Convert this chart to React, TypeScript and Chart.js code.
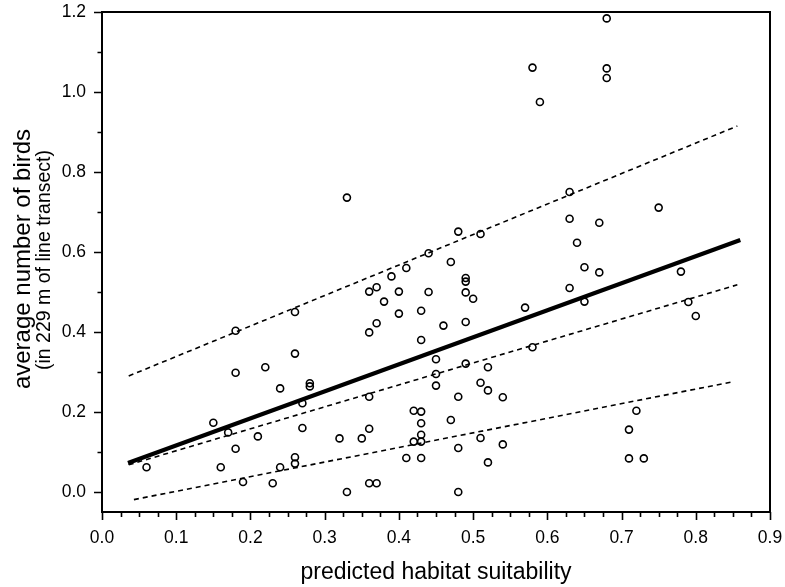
import React, { useEffect, useRef } from "react";
import { Chart, registerables } from "chart.js";

Chart.register(...registerables);

// observed points: predicted habitat suitability (x) vs average number of birds (y)
const suitability: number[] = [
  0.06, 0.15, 0.16, 0.17, 0.18, 0.18, 0.18, 0.19, 0.21, 0.22, 0.23, 0.24, 0.24, 0.26, 0.26, 0.26, 0.26, 0.27, 0.27, 0.28, 0.28,
  0.32, 0.33, 0.33, 0.35, 0.36, 0.37, 0.36, 0.37, 0.36, 0.37, 0.36, 0.36, 0.38, 0.39, 0.40, 0.40, 0.41, 0.41, 0.42, 0.42,
  0.43, 0.43, 0.43, 0.43, 0.43, 0.43, 0.43, 0.44, 0.44, 0.45, 0.45, 0.45, 0.46, 0.47, 0.47, 0.48, 0.48, 0.48, 0.48,
  0.49, 0.49, 0.49, 0.49, 0.49, 0.50, 0.51, 0.51, 0.51, 0.52, 0.52, 0.52, 0.54, 0.54, 0.57, 0.58, 0.59, 0.58,
  0.63, 0.63, 0.63, 0.64, 0.65, 0.65, 0.67, 0.67, 0.68, 0.68, 0.68, 0.71, 0.71, 0.72, 0.73, 0.75, 0.78, 0.79, 0.80,
];
const birds: number[] = [
  0.062, 0.173, 0.062, 0.149, 0.108, 0.298, 0.403, 0.025, 0.139, 0.312, 0.022, 0.062, 0.259, 0.45, 0.346, 0.087, 0.071, 0.16, 0.222, 0.272, 0.264,
  0.134, 0.736, 0.0, 0.134, 0.022, 0.022, 0.501, 0.512, 0.399, 0.422, 0.238, 0.158, 0.476, 0.539, 0.501, 0.446, 0.56, 0.085, 0.203, 0.126,
  0.201, 0.172, 0.143, 0.126, 0.085, 0.38, 0.453, 0.597, 0.5, 0.332, 0.295, 0.266, 0.416, 0.575, 0.18, 0.651, 0.238, 0.11, 0.0,
  0.535, 0.526, 0.499, 0.425, 0.321, 0.483, 0.645, 0.273, 0.135, 0.312, 0.254, 0.074, 0.237, 0.119, 0.461, 1.061, 0.975, 0.362,
  0.75, 0.683, 0.51, 0.623, 0.562, 0.476, 0.673, 0.549, 1.184, 1.059, 1.035, 0.156, 0.084, 0.203, 0.084, 0.711, 0.551, 0.475, 0.44,
];

// regression line and dashed bands (end points)
const fitX: number[] = [0.035, 0.86];
const fitY: number[] = [0.0725, 0.63];
const upperX: number[] = [0.036, 0.856];
const upperY: number[] = [0.29, 0.915];
const middleX: number[] = [0.036, 0.856];
const middleY: number[] = [0.068, 0.518];
const lowerX: number[] = [0.043, 0.851];
const lowerY: number[] = [-0.019, 0.276];

const xTicks: number[] = [0, 0.1, 0.2, 0.3, 0.4, 0.5, 0.6, 0.7, 0.8, 0.9];
const yTicks: number[] = [0, 0.2, 0.4, 0.6, 0.8, 1.0, 1.2];
const xMinorStep = 0.025;
const yMinorStep = 0.1;

const xTitle = "predicted habitat suitability";
const yTitle = "average number of birds";
const ySubTitle = "(in 229 m of line transect)";

const FONT = "'Liberation Sans', Arial, sans-serif";

const toPts = (xs: number[], ys: number[]) => xs.map((x, i) => ({ x, y: ys[i] }));

const framePlugin = {
  id: "frameAndTitles",
  afterDraw(chart: any) {
    const { ctx, chartArea } = chart;
    const xs = chart.scales.x;
    const ys = chart.scales.y;
    ctx.save();
    ctx.strokeStyle = "#000";
    ctx.lineWidth = 2;
    ctx.strokeRect(chartArea.left, chartArea.top, chartArea.right - chartArea.left, chartArea.bottom - chartArea.top);
    ctx.lineWidth = 1.6;
    ctx.beginPath();
    const nx = Math.round((xs.max - xs.min) / xMinorStep);
    for (let i = 0; i <= nx; i++) {
      const v = xs.min + i * xMinorStep;
      const px = Math.round(xs.getPixelForValue(v)) + 0.5;
      const major = i % 4 === 0;
      ctx.moveTo(px, chartArea.bottom);
      ctx.lineTo(px, chartArea.bottom + (major ? 8 : 5));
    }
    for (let i = 0; i <= 12; i++) {
      const v = i * yMinorStep;
      const py = Math.round(ys.getPixelForValue(v)) + 0.5;
      const major = i % 2 === 0;
      ctx.moveTo(chartArea.left, py);
      ctx.lineTo(chartArea.left - (major ? 8 : 4.5), py);
    }
    ctx.stroke();

    ctx.fillStyle = "#000";
    ctx.textAlign = "center";
    ctx.textBaseline = "middle";
    ctx.font = `23px ${FONT}`;
    ctx.fillText(xTitle, (chartArea.left + chartArea.right) / 2, 573);

    const cy = (chartArea.top + chartArea.bottom) / 2;
    ctx.translate(23, cy);
    ctx.rotate(-Math.PI / 2);
    ctx.font = `24px ${FONT}`;
    ctx.fillText(yTitle, 3, 0);
    ctx.font = `19.5px ${FONT}`;
    ctx.fillText(ySubTitle, 2, 22);
    ctx.restore();
  },
};

export default function App() {
  const ref = useRef<HTMLCanvasElement | null>(null);
  useEffect(() => {
    if (!ref.current) return;
    const lineDs = (label: string, xs: number[], ys: number[], width: number, dash: number[]) => ({
      type: "line" as const,
      label,
      data: toPts(xs, ys),
      borderColor: "#000",
      borderWidth: width,
      borderDash: dash,
      pointRadius: 0,
      fill: false,
      tension: 0,
    });
    const chart = new Chart(ref.current, {
      type: "scatter",
      data: {
        datasets: [
          {
            type: "scatter",
            label: "observed",
            data: toPts(suitability, birds),
            pointStyle: "circle",
            pointRadius: 3.5,
            pointBorderWidth: 1.6,
            pointBorderColor: "#000",
            pointBackgroundColor: "rgba(255,255,255,0)",
          } as any,
          lineDs("fit", fitX, fitY, 4, []),
          lineDs("upper", upperX, upperY, 1.6, [5, 4]),
          lineDs("middle", middleX, middleY, 1.6, [5, 4]),
          lineDs("lower", lowerX, lowerY, 1.6, [5, 4]),
        ],
      },
      options: {
        responsive: false,
        animation: false,
        devicePixelRatio: 1,
        layout: { padding: { top: 12, right: 15, left: 0, bottom: 0 } },
        plugins: { legend: { display: false }, tooltip: { enabled: false }, title: { display: false } },
        scales: {
          x: {
            type: "linear",
            min: 0,
            max: 0.9,
            grid: { display: false },
            border: { display: false },
            afterBuildTicks: (s: any) => {
              s.ticks = xTicks.map((v) => ({ value: v }));
            },
            afterFit: (s: any) => {
              s.height = 75;
              s.paddingLeft = 0;
              s.paddingRight = 0;
            },
            ticks: {
              padding: 8,
              color: "#000",
              maxRotation: 0,
              autoSkip: false,
              font: { family: FONT, size: 17.5 },
              callback: (v: any) => Number(v).toFixed(1),
            },
          },
          y: {
            type: "linear",
            min: -0.05,
            max: 1.2,
            grid: { display: false },
            border: { display: false },
            afterBuildTicks: (s: any) => {
              s.ticks = yTicks.map((v) => ({ value: v }));
            },
            afterFit: (s: any) => {
              s.width = 102;
              s.paddingTop = 0;
              s.paddingBottom = 0;
            },
            ticks: {
              padding: 8,
              color: "#000",
              autoSkip: false,
              font: { family: FONT, size: 17.5 },
              callback: (v: any) => Number(v).toFixed(1),
            },
          },
        },
      },
      plugins: [framePlugin],
    } as any);
    return () => chart.destroy();
  }, []);
  return (
    <div style={{ position: "fixed", left: 0, top: 0, width: 785, height: 587, background: "#fff" }}>
      <canvas ref={ref} width={785} height={587} style={{ display: "block" }} />
    </div>
  );
}
